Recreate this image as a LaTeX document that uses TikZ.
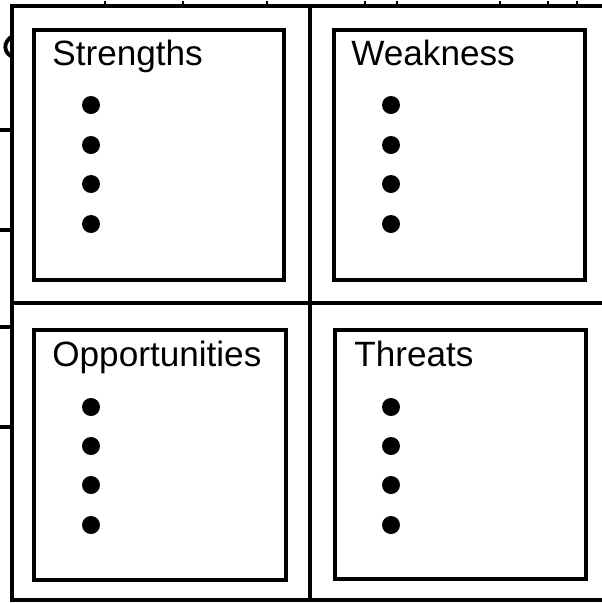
\documentclass[tikz,border=0pt]{standalone}
\usepackage{fontspec}
\setmainfont{Liberation Sans}
\usetikzlibrary{positioning}

\begin{document}
\begin{tikzpicture}[
  x={(0.02cm,0cm)},
  y={(0cm,-0.02cm)},
  frame/.style={line width=2.1pt,black},
  quad/.style={draw,line width=2.2pt,rectangle,inner sep=0pt,anchor=north west},
  head/.style={anchor=base west,inner sep=0pt,font=\fontsize{20}{24}\selectfont},
  bullet/.style={circle,fill=black,inner sep=0pt,minimum size=0.36cm}]
\useasboundingbox (0,0) rectangle (602,603);
% Outer grid (open on the right)
\draw[frame] (602,6) -- (12,6) -- (12,600) -- (602,600);
\draw[frame,line width=2pt] (12,303) -- (602,303);
\draw[frame,line width=2pt] (310,6) -- (310,600);
% Cut-off marks at the left border
\foreach \ty in {130,230,327,427}
  \draw[frame] (0,\ty) -- (12,\ty);
\draw[frame,line width=2.2pt] (11,37) .. controls (3,43) and (4,52) .. (11,56);
% Cut-off marks above the top border
\foreach \tx in {105,183,267,365,397,500,548,577}
  \draw[frame,line width=1.2pt] (\tx,1) -- (\tx,5);
% Four quadrant boxes
\node[quad,minimum width=250*0.02cm,minimum height=250*0.02cm] (str) at (32,28) {};
\node[quad,minimum width=251*0.02cm,minimum height=250*0.02cm] (wk) at (332,28) {};
\node[quad,minimum width=252*0.02cm,minimum height=250*0.02cm] (opp) at (32,328) {};
\node[quad,minimum width=251*0.02cm,minimum height=249*0.02cm] (thr) at (333,328) {};
% Headings
\node[head] (strT) at (52,65) {Strengths};
\node[head] (wkT) at (351,65) {Weakness};
\node[head] (oppT) at (52,366) {Opportunities};
\node[head] (thrT) at (354,366) {Threats};
% Bullet points
\foreach \i/\by in {1/105,2/145,3/184,4/224} {
  \node[bullet] (strB\i) at (91,\by) {};
  \node[bullet] (wkB\i) at (391,\by) {};
}
\foreach \i/\by in {1/407,2/446,3/485,4/525} {
  \node[bullet] (oppB\i) at (91,\by) {};
  \node[bullet] (thrB\i) at (391,\by) {};
}
\end{tikzpicture}
\end{document}
